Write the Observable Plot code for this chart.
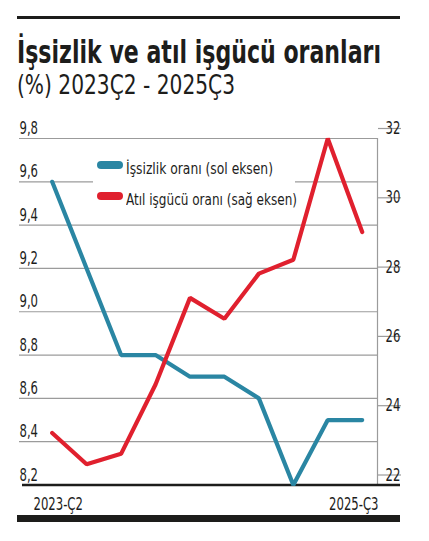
<!DOCTYPE html>
<html><head><meta charset="utf-8">
<script src="https://cdn.jsdelivr.net/npm/d3@7"></script>
<script src="https://cdn.jsdelivr.net/npm/@observablehq/plot@0.6"></script>
<style>
body{margin:0;background:#fff;width:429px;height:541px;position:relative;overflow:hidden;font-family:"Liberation Sans Narrow","DejaVu Sans Condensed","DejaVu Sans",sans-serif;color:#1d1d1b;}
.abs{position:absolute;white-space:nowrap;line-height:1;transform-origin:0 0;}
#toprule{left:17px;top:16px;width:383px;height:3px;background:#1d1d1b;}
#title{left:17px;top:36px;font-weight:bold;font-size:32px;}
#subtitle{left:17px;top:72px;font-weight:300;font-size:26.5px;}
#chart{position:absolute;left:0;top:100px;}
#legend{left:93px;top:146px;width:202px;height:70px;background:#fff;}
.sw{position:absolute;width:26px;height:8px;border-radius:4px;}
.lt{position:absolute;font-size:16px;white-space:nowrap;line-height:1;transform-origin:0 0;}
#bottombar{left:17px;top:515px;width:383px;height:7px;background:#1d1d1b;}
</style></head>
<body>
<div id="toprule" class="abs"></div>
<div id="title" class="abs">İşsizlik ve atıl işgücü oranları</div>
<div id="subtitle" class="abs">(%) 2023Ç2 - 2025Ç3</div>
<div id="chart"></div>
<div id="legend" class="abs"></div>
<div id="bottombar" class="abs"></div>
<script>
// ---- data ----
const quarters = ["2023-Ç2","2023-Ç3","2023-Ç4","2024-Ç1","2024-Ç2","2024-Ç3","2024-Ç4","2025-Ç1","2025-Ç2","2025-Ç3"];
const unemployment = [9.6, 9.2, 8.8, 8.8, 8.7, 8.7, 8.6, 8.2, 8.5, 8.5];   // left axis
const slack = [23.5, 22.6, 22.9, 24.9, 27.4, 26.8, 28.1, 28.5, 32.0, 29.3]; // right axis
const leftTicks = [8.2, 8.4, 8.6, 8.8, 9.0, 9.2, 9.4, 9.6, 9.8];
const rightTicks = [22, 24, 26, 28, 30, 32];
const seriesNames = ["İşsizlik oranı (sol eksen)", "Atıl işgücü oranı (sağ eksen)"];
const seriesColors = ["#2a86a3", "#e0202e"];
const xLabels = [quarters[0], quarters[quarters.length - 1]];

const L0 = 8.2, L1 = 9.8, R0 = 22, R1 = 32;
const toLeft = v => L0 + (v - R0) * (L1 - L0) / (R1 - R0);
const toRight = v => R0 + (v - L0) * (R1 - R0) / (L1 - L0);

const rows = quarters.map((q, i) => ({i, q, u: unemployment[i], s: toLeft(slack[i])}));

const xMin = -0.949, xMax = 9.444, pxPer = 34.444;
const fontStack = '"Liberation Sans Narrow","DejaVu Sans Condensed","DejaVu Sans",sans-serif';
const gridColor = "#9b9b9b";

const chart = Plot.plot({
  width: 429, height: 441,
  marginTop: 38, marginBottom: 56.5, marginLeft: 19, marginRight: 52,
  style: {fontFamily: fontStack, fontSize: "17.5px", color: "#1d1d1b", background: "transparent"},
  x: {domain: [xMin, xMax], axis: null},
  y: {domain: [L0, L1], axis: null},
  marks: [
    Plot.ruleY(leftTicks.slice(1), {stroke: gridColor, strokeWidth: 1.2}),
    Plot.ruleX([xMax], {y1: L0, y2: L1, stroke: gridColor, strokeWidth: 1.2}),
    Plot.axisY({ticks: leftTicks, anchor: "left", tickSize: 0, tickPadding: 0, textAnchor: "start", dy: -10,
      tickFormat: d => d.toFixed(1).replace(".", ","), label: null, fill: "#1d1d1b"}),
    Plot.axisY({ticks: rightTicks.map(toLeft), anchor: "right", tickSize: 23, tickPadding: -15, dy: -10,
      tickFormat: d => String(Math.round(toRight(d))), label: null, stroke: gridColor, strokeWidth: 1.2, fill: "#1d1d1b", strokeOpacity: 1}),
    Plot.ruleY([L0], {x1: xMin + 3 / pxPer, x2: xMax + 23 / pxPer, stroke: "#1d1d1b", strokeWidth: 2.6}),
    Plot.line(rows, {x: "i", y: "u", stroke: seriesColors[0], strokeWidth: 4.2, strokeLinejoin: "miter"}),
    Plot.line(rows, {x: "i", y: "s", stroke: seriesColors[1], strokeWidth: 4.2, strokeLinejoin: "miter"}),
    Plot.text([xLabels[0]], {x: d => quarters.indexOf(d), y: L0, dy: 19, textAnchor: "start", dx: -18.7, fill: "#1d1d1b"}),
    Plot.text([xLabels[1]], {x: d => quarters.indexOf(d), y: L0, dy: 19, textAnchor: "end", dx: 16.3, fill: "#1d1d1b"})
  ]
});
document.getElementById("chart").appendChild(chart);

// condense the chart's texts to the reference's narrow type
chart.querySelectorAll("text").forEach(t => {
  const w = t.getComputedTextLength();
  if (w > 0) { t.setAttribute("textLength", (w * 0.74).toFixed(2)); t.setAttribute("lengthAdjust", "spacingAndGlyphs"); }
});

// legend
const leg = document.getElementById("legend");
const legTops = [15, 46];
seriesNames.forEach((n, k) => {
  const sw = document.createElement("div");
  sw.className = "sw"; sw.style.left = "4px"; sw.style.top = legTops[k] + "px"; sw.style.background = seriesColors[k];
  leg.appendChild(sw);
  const t = document.createElement("div");
  t.className = "lt"; t.textContent = n; t.style.left = "33px"; t.style.top = (legTops[k] - 0.5) + "px";
  leg.appendChild(t);
});

// fit widths to the reference's condensed type
function fitW(el, w){ const r = el.getBoundingClientRect().width; el.style.transform = `scaleX(${w / r})`; }
fitW(document.getElementById("title"), 364);
fitW(document.getElementById("subtitle"), 218);
const lts = leg.querySelectorAll(".lt");
fitW(lts[0], 147); fitW(lts[1], 171);
</script>
</body></html>
